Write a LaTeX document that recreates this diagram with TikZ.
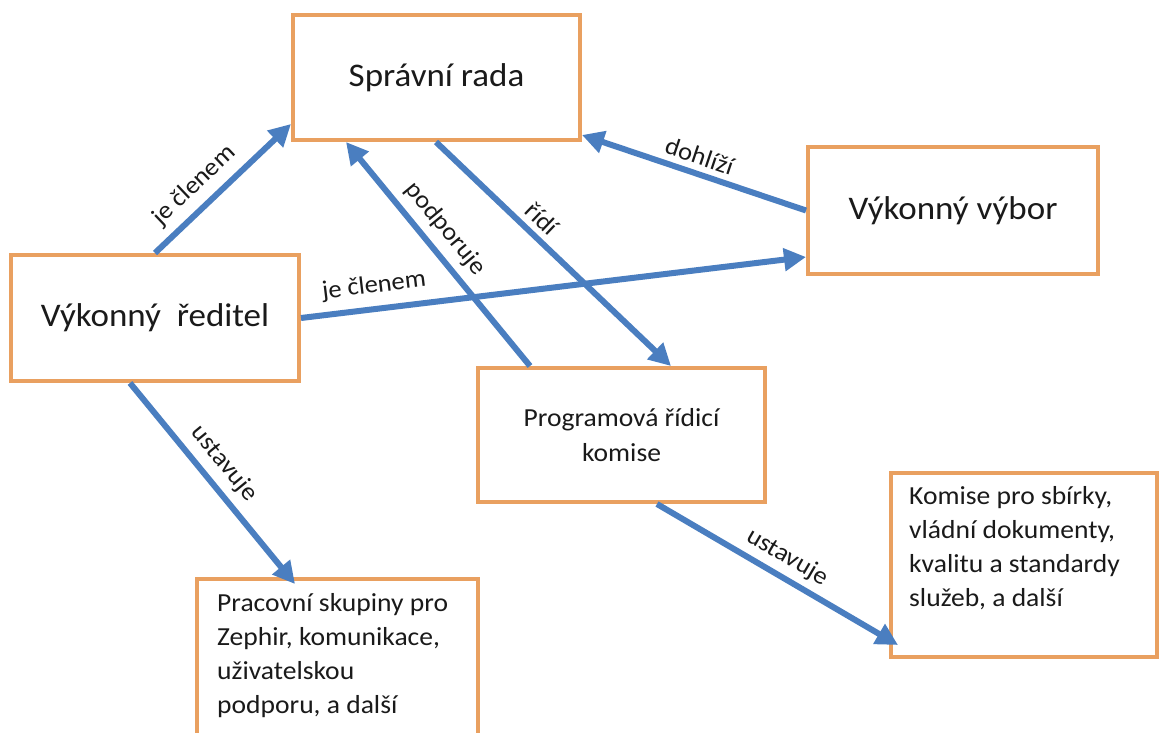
\documentclass[tikz,border=0pt]{standalone}
\usepackage{fontspec}
\setmainfont[FakeStretch=1.06]{Carlito}
\usetikzlibrary{arrows.meta}
\definecolor{boxorange}{HTML}{E9A060}
\definecolor{arrowblue}{HTML}{4A7EC0}
\definecolor{txt}{HTML}{1A1A1A}
\begin{document}
\begin{tikzpicture}[x=1pt,y=-1pt,
  box/.style={draw=boxorange, line width=4pt, text=txt},
  big/.style={font=\fontsize{33}{40}\selectfont},
  small/.style={font=\fontsize{26}{34.2}\selectfont, text=txt},
  arr/.style={draw=arrowblue, line width=6pt, -{Triangle[length=22pt,width=22pt]}},
  lbl/.style={font=\fontsize{25}{30}\selectfont, text=txt, sloped, above, inner sep=6pt}]
\clip (0,0) rectangle (1160,733);
\fill[white] (0,0) rectangle (1160,733);
% boxes
\node[box, big, minimum width=287pt, minimum height=125pt] (rada) at (436.5,77.5) {Správní rada};
\node[box, big, minimum width=290pt, minimum height=127pt] (vybor) at (953,210.5) {Výkonný výbor};
\node[box, big, minimum width=288pt, minimum height=126pt] (reditel) at (155,318) {Výkonný\ \ ředitel};
\node[box, small, align=center, minimum width=287pt, minimum height=134pt] (prog) at (621.5,435) {Programová řídicí\\komise};
\node[box, minimum width=266pt, minimum height=184pt] (komise) at (1024,565) {};
\node[small, align=left, anchor=north west, inner sep=0pt] (komisetext) at (909,486) {Komise pro sbírky,\\vládní dokumenty,\\kvalitu a standardy\\služeb, a další};
\node[box, minimum width=281pt, minimum height=200pt] (prac) at (337.5,679) {};
\node[small, align=left, anchor=north west, inner sep=0pt] (practext) at (217,593) {Pracovní skupiny pro\\Zephir, komunikace,\\uživatelskou\\podporu, a další};
% arrows
\draw[arr] (reditel.north) -- node[lbl, pos=0.40, inner sep=8pt] {je členem} ([yshift=18pt]rada.south west);
\draw[arr] (reditel.east) -- node[lbl, pos=0.15, inner sep=9pt] {je členem} ([yshift=19pt]vybor.south west);
\draw[arr] ([xshift=54pt]prog.north west) -- node[lbl, pos=0.55, inner sep=8pt] {podporuje} ([xshift=55pt]rada.south west);
\draw[arr] ([xshift=145pt]rada.south west) -- node[lbl, pos=0.40] {řídí} ([xshift=195pt]prog.north west);
\draw[arr] (vybor.west) -- node[lbl, pos=0.50] {dohlíží} ([yshift=7pt]rada.south east);
\draw[arr] ([xshift=121pt]reditel.south west) -- node[lbl, pos=0.47, inner sep=8pt] {ustavuje} ([xshift=100pt,yshift=-7pt]prac.north west);
\draw[arr] ([xshift=181pt]prog.south west) -- node[lbl, pos=0.5] {ustavuje} ([xshift=9pt,yshift=14pt]komise.south west);
\end{tikzpicture}
\end{document}
